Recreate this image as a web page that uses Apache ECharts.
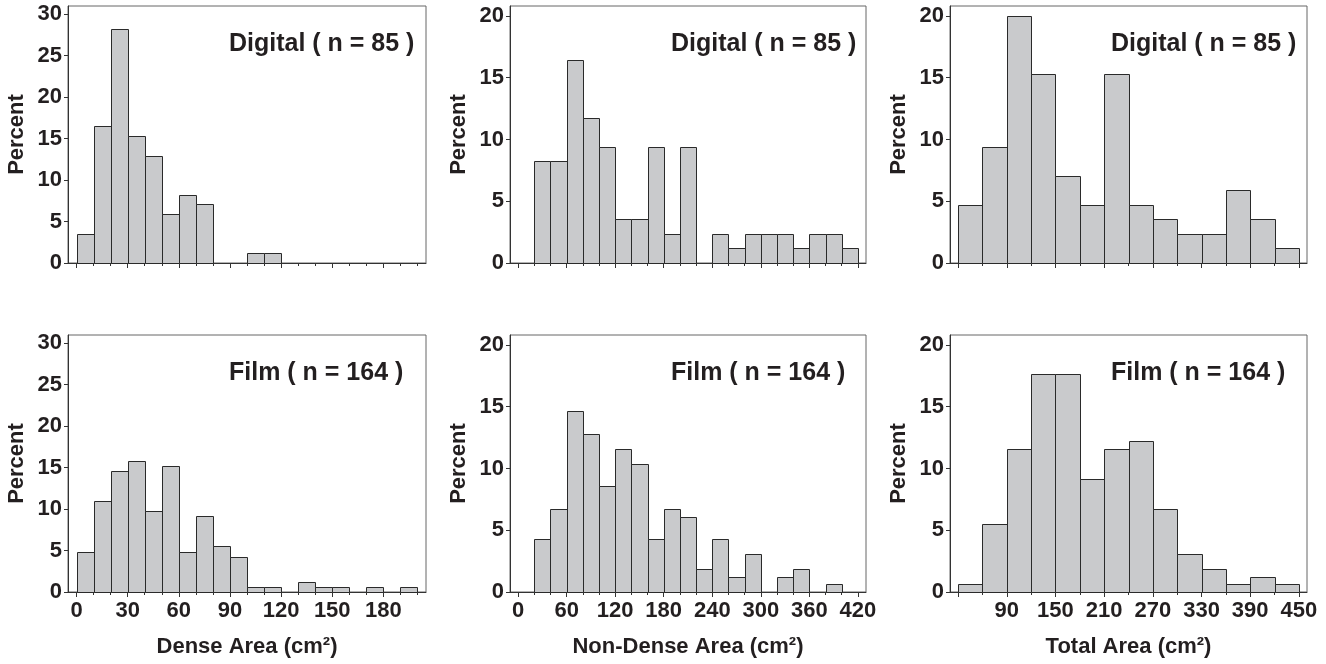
<!DOCTYPE html>
<html>
<head>
<meta charset="utf-8">
<script src="https://cdn.jsdelivr.net/npm/echarts@6/dist/echarts.min.js"></script>
<style>
html,body{margin:0;padding:0;background:#fff;}
#chart{width:1326px;height:664px;}
</style>
</head>
<body>
<div id="chart"></div>
<script>
// ---- Data (percent per bin) ----
// Dense area: bins of 10 cm², starting at 0
const denseBinStart = 0, denseBinWidth = 10;
const denseDigital = [3.53, 16.47, 28.24, 15.29, 12.94, 5.88, 8.24, 7.06, 0, 0, 1.18, 1.18];
const denseFilm = [4.88, 10.98, 14.63, 15.85, 9.76, 15.24, 4.88, 9.15, 5.49, 4.27, 0.61, 0.61, 0, 1.22, 0.61, 0.61, 0, 0.61, 0, 0.61];
// Non-dense area: bins of 20 cm², starting at 20
const nonDenseBinStart = 20, nonDenseBinWidth = 20;
const nonDenseDigital = [8.24, 8.24, 16.47, 11.76, 9.41, 3.53, 3.53, 9.41, 2.35, 9.41, 0, 2.35, 1.18, 2.35, 2.35, 2.35, 1.18, 2.35, 2.35, 1.18];
const nonDenseFilm = [4.27, 6.71, 14.63, 12.80, 8.54, 11.59, 10.37, 4.27, 6.71, 6.10, 1.83, 4.27, 1.22, 3.05, 0, 1.22, 1.83, 0, 0.61];
// Total area: bins of 30 cm², starting at 30
const totalBinStart = 30, totalBinWidth = 30;
const totalDigital = [4.71, 9.41, 20.0, 15.29, 7.06, 4.71, 15.29, 4.71, 3.53, 2.35, 2.35, 5.88, 3.53, 1.18];
const totalFilm = [0.61, 5.49, 11.59, 17.68, 17.68, 9.15, 11.59, 12.20, 6.71, 3.05, 1.83, 0.61, 1.22, 0.61];

// Tick labels
const denseXLabels = [0, 30, 60, 90, 120, 150, 180];
const nonDenseXLabels = [0, 60, 120, 180, 240, 300, 360, 420];
const totalXLabels = [90, 150, 210, 270, 330, 390, 450];
const denseYLabels = [0, 5, 10, 15, 20, 25, 30];
const otherYLabels = [0, 5, 10, 15, 20];

const titlesTop = 'Digital ( n = 85 )';
const titlesBottom = 'Film ( n = 164 )';
const xNames = ['Dense Area (cm²)', 'Non-Dense Area (cm²)', 'Total Area (cm²)'];
const yName = 'Percent';

// ---- Layout ----
const FONT = '"Liberation Sans", Arial, Helvetica, sans-serif';
const TXT = '#231f20';
const cols = [
  {left: 68, width: 358, xmin: -5, xmax: 205, ymax: 31, start: denseBinStart, w: denseBinWidth, tickFrom: 0, tickTo: 200, majorStep: 30, labels: denseXLabels, ylabels: denseYLabels, data: [denseDigital, denseFilm]},
  {left: 510, width: 356, xmin: -10, xmax: 430, ymax: 20.8, start: nonDenseBinStart, w: nonDenseBinWidth, tickFrom: 0, tickTo: 420, majorStep: 60, labels: nonDenseXLabels, ylabels: otherYLabels, data: [nonDenseDigital, nonDenseFilm]},
  {left: 950, width: 357, xmin: 20, xmax: 460, ymax: 20.8, start: totalBinStart, w: totalBinWidth, tickFrom: 30, tickTo: 450, majorStep: 60, majorFrom: 30, labels: totalXLabels, ylabels: otherYLabels, data: [totalDigital, totalFilm]}
];
const rows = [{top: 6, height: 257, title: titlesTop, titleTop: 32}, {top: 335, height: 257, title: titlesBottom, titleTop: 361}];

const grid = [], xAxis = [], yAxis = [], series = [], title = [];

rows.forEach((r, ri) => {
  cols.forEach((c, ci) => {
    const gi = grid.length;
    grid.push({left: c.left, top: r.top, width: c.width, height: r.height, show: true, borderColor: '#666', borderWidth: 1, backgroundColor: 'transparent'});
    const minorTicks = [];
    for (let v = c.tickFrom; v <= c.tickTo + 1e-9; v += c.w) minorTicks.push(v);
    const majorTicks = [];
    const mf = c.majorFrom !== undefined ? c.majorFrom : c.tickFrom;
    for (let v = mf; v <= c.tickTo + 1e-9; v += c.majorStep) majorTicks.push(v);
    const isBottom = ri === 1;
    const xi = xAxis.length;
    xAxis.push({
      type: 'value', gridIndex: gi, position: 'bottom', min: c.xmin, max: c.xmax,
      axisLine: {show: true, onZero: false, lineStyle: {color: '#333', width: 1}},
      axisTick: {show: true, customValues: minorTicks, length: 3, lineStyle: {color: '#333'}},
      axisLabel: {show: isBottom, customValues: c.labels, fontSize: 22, fontWeight: 'bold', color: TXT, fontFamily: FONT, margin: 8},
      splitLine: {show: false},
      name: isBottom ? xNames[ci] : '', nameLocation: 'middle', nameGap: 44,
      nameTextStyle: {fontSize: 22, fontWeight: 'bold', color: TXT, fontFamily: FONT}
    });
    xAxis.push({
      type: 'value', gridIndex: gi, position: 'bottom', offset: 0, min: c.xmin, max: c.xmax,
      axisLine: {show: false},
      axisTick: {show: true, customValues: majorTicks, length: 5, lineStyle: {color: '#333'}},
      axisLabel: {show: false}, splitLine: {show: false}
    });
    const yi = yAxis.length;
    yAxis.push({
      type: 'value', gridIndex: gi, min: 0, max: c.ymax,
      axisLine: {show: true, onZero: false, lineStyle: {color: '#333', width: 1}},
      axisTick: {show: true, customValues: c.ylabels, length: 4, lineStyle: {color: '#333'}},
      axisLabel: {customValues: c.ylabels, fontSize: 22, fontWeight: 'bold', color: TXT, fontFamily: FONT, margin: 6},
      splitLine: {show: false},
      name: yName, nameLocation: 'middle', nameGap: 40, nameRotate: 90,
      nameTextStyle: {fontSize: 22, fontWeight: 'bold', color: TXT, fontFamily: FONT}
    });
    const vals = c.data[ri];
    const d = [];
    vals.forEach((v, i) => { if (v > 0) d.push([c.start + i * c.w, c.start + (i + 1) * c.w, v]); });
    series.push({
      type: 'custom', xAxisIndex: xi, yAxisIndex: yi, data: d, silent: true,
      encode: {x: [0, 1], y: 2},
      renderItem: function (params, api) {
        const p0 = api.coord([api.value(0), api.value(2)]);
        const p1 = api.coord([api.value(1), 0]);
        const x0 = Math.round(p0[0]) + 0.5, x1 = Math.round(p1[0]) + 0.5;
        const y0 = Math.round(p0[1]) + 0.5, y1 = Math.round(p1[1]) + 0.5;
        return {type: 'rect', shape: {x: x0, y: y0, width: x1 - x0, height: y1 - y0},
          style: {fill: '#c9cacc', stroke: '#2a2a2a', lineWidth: 1}};
      }
    });
    title.push({text: r.title, left: c.left + 161, top: r.titleTop, padding: 0,
      textStyle: {fontSize: 25, fontWeight: 'bold', color: TXT, fontFamily: FONT}});
  });
});

const chart = echarts.init(document.getElementById('chart'), null, {renderer: 'canvas'});
chart.setOption({animation: false, backgroundColor: '#fff', title, grid, xAxis, yAxis, series});
</script>
</body>
</html>
